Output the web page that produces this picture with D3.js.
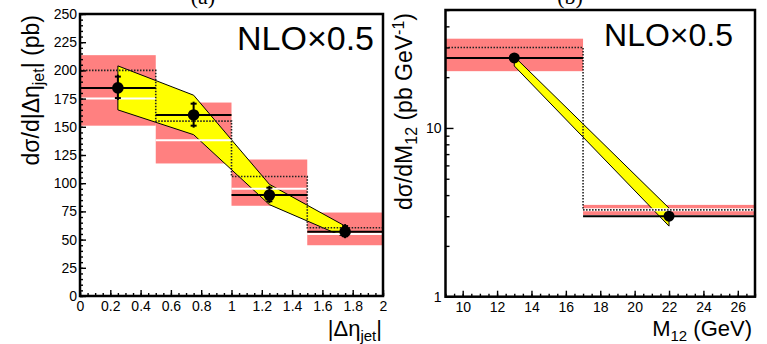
<!DOCTYPE html>
<html>
<head>
<meta charset="utf-8">
<script src="https://cdn.jsdelivr.net/npm/d3@7/dist/d3.min.js"></script>
<style>
  body { margin: 0; background: #fff; }
  text { font-family: "Liberation Sans", Arial, sans-serif; }
</style>
</head>
<body>
<div id="vis"></div>
<script>
// Two ROOT-style panels: (a) d sigma / d|Delta eta_jet|, (b) d sigma / dM12

width = 767;
height = 344;

// ---- panel (a) data ----
let etaEdges = [0, 0.5, 1, 1.5, 2];
let etaCentres = [0.25, 0.75, 1.25, 1.75];
let etaData = [184.5, 160.5, 89.5, 57];
let etaErrLo = [175.5, 151, 84, 53];
let etaErrHi = [194.5, 170.5, 96, 62];
let etaSysLo = [151, 117.5, 80, 45];
let etaSysHi = [213.5, 171.5, 121, 74];
let etaWhite = [175, 138, 95, 55];
let etaNlo = [200, 155, 106, 60.5];
let etaBandHi = [204, 178, 99, 62];
let etaBandLo = [165, 143, 81, 52];
let etaXTicks = [0, 0.2, 0.4, 0.6, 0.8, 1, 1.2, 1.4, 1.6, 1.8, 2];
let etaYTicks = [0, 25, 50, 75, 100, 125, 150, 175, 200, 225, 250];

// ---- panel (b) data ----
let mEdges = [9, 17, 27];
let mCentres = [13, 22];
let mData = [26, 3.0];
let mSysLo = [21.7, 3.05];
let mSysHi = [33.8, 3.5];
let mWhite = [NaN, 3.27];
let mNlo = [30, 3.27];
let mBandHi = [26.5, 3.35];
let mBandLo = [23.3, 2.62];
let mXTicks = [10, 12, 14, 16, 18, 20, 22, 24, 26];
let mYTicks = [1, 10];

let red = "#ff8080";
let yellow = "#ffff00";

let svg = d3.select("#vis").append("svg").attr("width", width).attr("height", height);

// ---------------- panel (a) ----------------
let xa = d3.scaleLinear().domain([0, 2]).range([80, 383]);
let ya = d3.scaleLinear().domain([0, 250]).range([296, 14]);
let ga = svg.append("g");

etaCentres.forEach((c, i) => {
  ga.append("rect")
    .attr("x", xa(etaEdges[i])).attr("width", xa(etaEdges[i + 1]) - xa(etaEdges[i]))
    .attr("y", ya(etaSysHi[i])).attr("height", ya(etaSysLo[i]) - ya(etaSysHi[i]))
    .attr("fill", red);
});

let bandA = etaCentres.map((c, i) => [xa(c), ya(etaBandHi[i])])
  .concat(etaCentres.map((c, i) => [xa(c), ya(etaBandLo[i])]).reverse());
ga.append("path").attr("d", d3.line()(bandA) + "Z")
  .attr("fill", yellow).attr("stroke", "#000").attr("stroke-width", 1);

etaCentres.forEach((c, i) => {
  ga.append("line")
    .attr("x1", xa(etaEdges[i])).attr("x2", xa(etaEdges[i + 1]))
    .attr("y1", ya(etaWhite[i])).attr("y2", ya(etaWhite[i]))
    .attr("stroke", "#fff").attr("stroke-width", 2);
});

// NLO histogram, dotted
let nloA = [];
etaNlo.forEach((v, i) => { nloA.push([xa(etaEdges[i]), ya(v)]); nloA.push([xa(etaEdges[i + 1]), ya(v)]); });
ga.append("path").attr("d", d3.line()(nloA)).attr("fill", "none")
  .attr("stroke", "#222").attr("stroke-width", 1.6).attr("stroke-dasharray", "1.5,1.5");

etaCentres.forEach((c, i) => {
  ga.append("line")
    .attr("x1", xa(etaEdges[i])).attr("x2", xa(etaEdges[i + 1]))
    .attr("y1", ya(etaData[i])).attr("y2", ya(etaData[i]))
    .attr("stroke", "#000").attr("stroke-width", 2);
  ga.append("line")
    .attr("x1", xa(c)).attr("x2", xa(c))
    .attr("y1", ya(etaErrHi[i]) - 2).attr("y2", ya(etaErrLo[i]) + 2)
    .attr("stroke", "#000").attr("stroke-width", 2);
  [etaErrHi[i], etaErrLo[i]].forEach(v => {
    ga.append("line")
      .attr("x1", xa(c) - 3).attr("x2", xa(c) + 3)
      .attr("y1", ya(v)).attr("y2", ya(v))
      .attr("stroke", "#000").attr("stroke-width", 2);
  });
  ga.append("circle").attr("cx", xa(c)).attr("cy", ya(etaData[i])).attr("r", 5.8).attr("fill", "#000");
});

// axes (ticks inward)
ga.append("g").attr("transform", "translate(0,296)")
  .call(d3.axisBottom(xa).tickValues(d3.range(0, 2.001, 0.05)).tickSize(-3).tickFormat(""));
ga.append("g").attr("transform", "translate(0,296)")
  .call(d3.axisBottom(xa).tickValues(etaXTicks).tickSize(-6).tickPadding(5).tickFormat(d => d));
ga.append("g").attr("transform", "translate(80,0)")
  .call(d3.axisLeft(ya).tickValues(d3.range(0, 251, 5)).tickSize(-3).tickFormat(""));
ga.append("g").attr("transform", "translate(80,0)")
  .call(d3.axisLeft(ya).tickValues(etaYTicks).tickSize(-6).tickPadding(3).tickFormat(d => d));
ga.append("rect").attr("x", 80).attr("y", 14).attr("width", 303).attr("height", 282)
  .attr("fill", "none").attr("stroke", "#000").attr("stroke-width", 2.5);

// ---------------- panel (b) ----------------
let xb = d3.scaleLinear().domain([9, 27]).range([445.5, 755]);
let yb = d3.scaleLog().domain([1, 50]).range([296.7, 10]);
let gb = svg.append("g");

mCentres.forEach((c, i) => {
  gb.append("rect")
    .attr("x", xb(mEdges[i])).attr("width", xb(mEdges[i + 1]) - xb(mEdges[i]))
    .attr("y", yb(mSysHi[i])).attr("height", yb(mSysLo[i]) - yb(mSysHi[i]))
    .attr("fill", red);
});

let bandB = mCentres.map((c, i) => [xb(c), yb(mBandHi[i])])
  .concat(mCentres.map((c, i) => [xb(c), yb(mBandLo[i])]).reverse());
gb.append("path").attr("d", d3.line()(bandB) + "Z")
  .attr("fill", yellow).attr("stroke", "#000").attr("stroke-width", 1);

mCentres.forEach((c, i) => {
  if (isNaN(mWhite[i])) return;
  gb.append("line")
    .attr("x1", xb(mEdges[i])).attr("x2", xb(mEdges[i + 1]))
    .attr("y1", yb(mWhite[i])).attr("y2", yb(mWhite[i]))
    .attr("stroke", "#fff").attr("stroke-width", 3);
});

let nloB = [];
mNlo.forEach((v, i) => { nloB.push([xb(mEdges[i]), yb(v)]); nloB.push([xb(mEdges[i + 1]), yb(v)]); });
gb.append("path").attr("d", d3.line()(nloB)).attr("fill", "none")
  .attr("stroke", "#222").attr("stroke-width", 1.6).attr("stroke-dasharray", "1.5,1.5");

mCentres.forEach((c, i) => {
  gb.append("line")
    .attr("x1", xb(mEdges[i])).attr("x2", xb(mEdges[i + 1]))
    .attr("y1", yb(mData[i])).attr("y2", yb(mData[i]))
    .attr("stroke", "#000").attr("stroke-width", 2);
  gb.append("circle").attr("cx", xb(c)).attr("cy", yb(mData[i])).attr("r", 5.5).attr("fill", "#000");
});

let logMinor = [2, 3, 4, 5, 6, 7, 8, 9, 20, 30, 40, 50];
gb.append("g").attr("transform", "translate(0,296.7)")
  .call(d3.axisBottom(xb).tickValues(d3.range(9, 27.01, 0.5)).tickSize(-3).tickFormat(""));
gb.append("g").attr("transform", "translate(0,296.7)")
  .call(d3.axisBottom(xb).tickValues(mXTicks).tickSize(-6).tickPadding(5).tickFormat(d => d));
gb.append("g").attr("transform", "translate(445.5,0)")
  .call(d3.axisLeft(yb).tickValues(logMinor).tickSize(-4).tickFormat(""));
gb.append("g").attr("transform", "translate(445.5,0)")
  .call(d3.axisLeft(yb).tickValues(mYTicks).tickSize(-8).tickPadding(4).tickFormat(d => d));
gb.append("rect").attr("x", 445.5).attr("y", 10).attr("width", 309.5).attr("height", 286.7)
  .attr("fill", "none").attr("stroke", "#000").attr("stroke-width", 2.5);

// tick label fonts
svg.selectAll(".tick text").style("font-size", "14px").attr("fill", "#000")
  .style("font-family", "'Liberation Sans', Arial, sans-serif");
svg.selectAll(".domain").remove();
svg.selectAll(".tick line").attr("stroke", "#000").attr("stroke-width", 1.4);

// ---------------- labels ----------------
svg.append("text").attr("x", 374).attr("y", 50).attr("text-anchor", "end")
  .style("font-size", "34px").text("NLO\u00d70.5");
svg.append("text").attr("x", 733).attr("y", 46).attr("text-anchor", "end")
  .style("font-size", "32px").text("NLO\u00d70.5");

// panel letters sit at the very top edge, as in the original figure
svg.append("text").attr("x", 203).attr("y", 4).attr("text-anchor", "middle")
  .style("font-family", "'Liberation Serif', serif").style("font-size", "22px").text("(a)");
svg.append("text").attr("x", 570).attr("y", 4).attr("text-anchor", "middle")
  .style("font-family", "'Liberation Serif', serif").style("font-size", "22px").text("(b)");

// x titles
let xt1 = svg.append("text").attr("x", 382).attr("y", 336).attr("text-anchor", "end").style("font-size", "22px");
xt1.append("tspan").text("|\u0394\u03b7");
xt1.append("tspan").attr("dy", 5).style("font-size", "15px").text("jet");
xt1.append("tspan").attr("dy", -5).text("|");

let xt2 = svg.append("text").attr("x", 752).attr("y", 336).attr("text-anchor", "end").style("font-size", "22px");
xt2.append("tspan").text("M");
xt2.append("tspan").attr("dy", 5).style("font-size", "15px").text("12");
xt2.append("tspan").attr("dy", -5).text(" (GeV)");

// y titles
let yt1 = svg.append("text").attr("transform", "rotate(-90)")
  .attr("x", -15).attr("y", 39).attr("text-anchor", "end").style("font-size", "23px");
yt1.append("tspan").text("d\u03c3/d|\u0394\u03b7");
yt1.append("tspan").attr("dy", 5).style("font-size", "16px").text("jet");
yt1.append("tspan").attr("dy", -5).text("| (pb)");

let yt2 = svg.append("text").attr("transform", "rotate(-90)")
  .attr("x", -13).attr("y", 412).attr("text-anchor", "end").style("font-size", "23px");
yt2.append("tspan").text("d\u03c3/dM");
yt2.append("tspan").attr("dy", 5).style("font-size", "16px").text("12");
yt2.append("tspan").attr("dy", -5).text(" (pb GeV");
yt2.append("tspan").attr("dy", -8).style("font-size", "16px").text("-1");
yt2.append("tspan").attr("dy", 8).text(")");
</script>
</body>
</html>
